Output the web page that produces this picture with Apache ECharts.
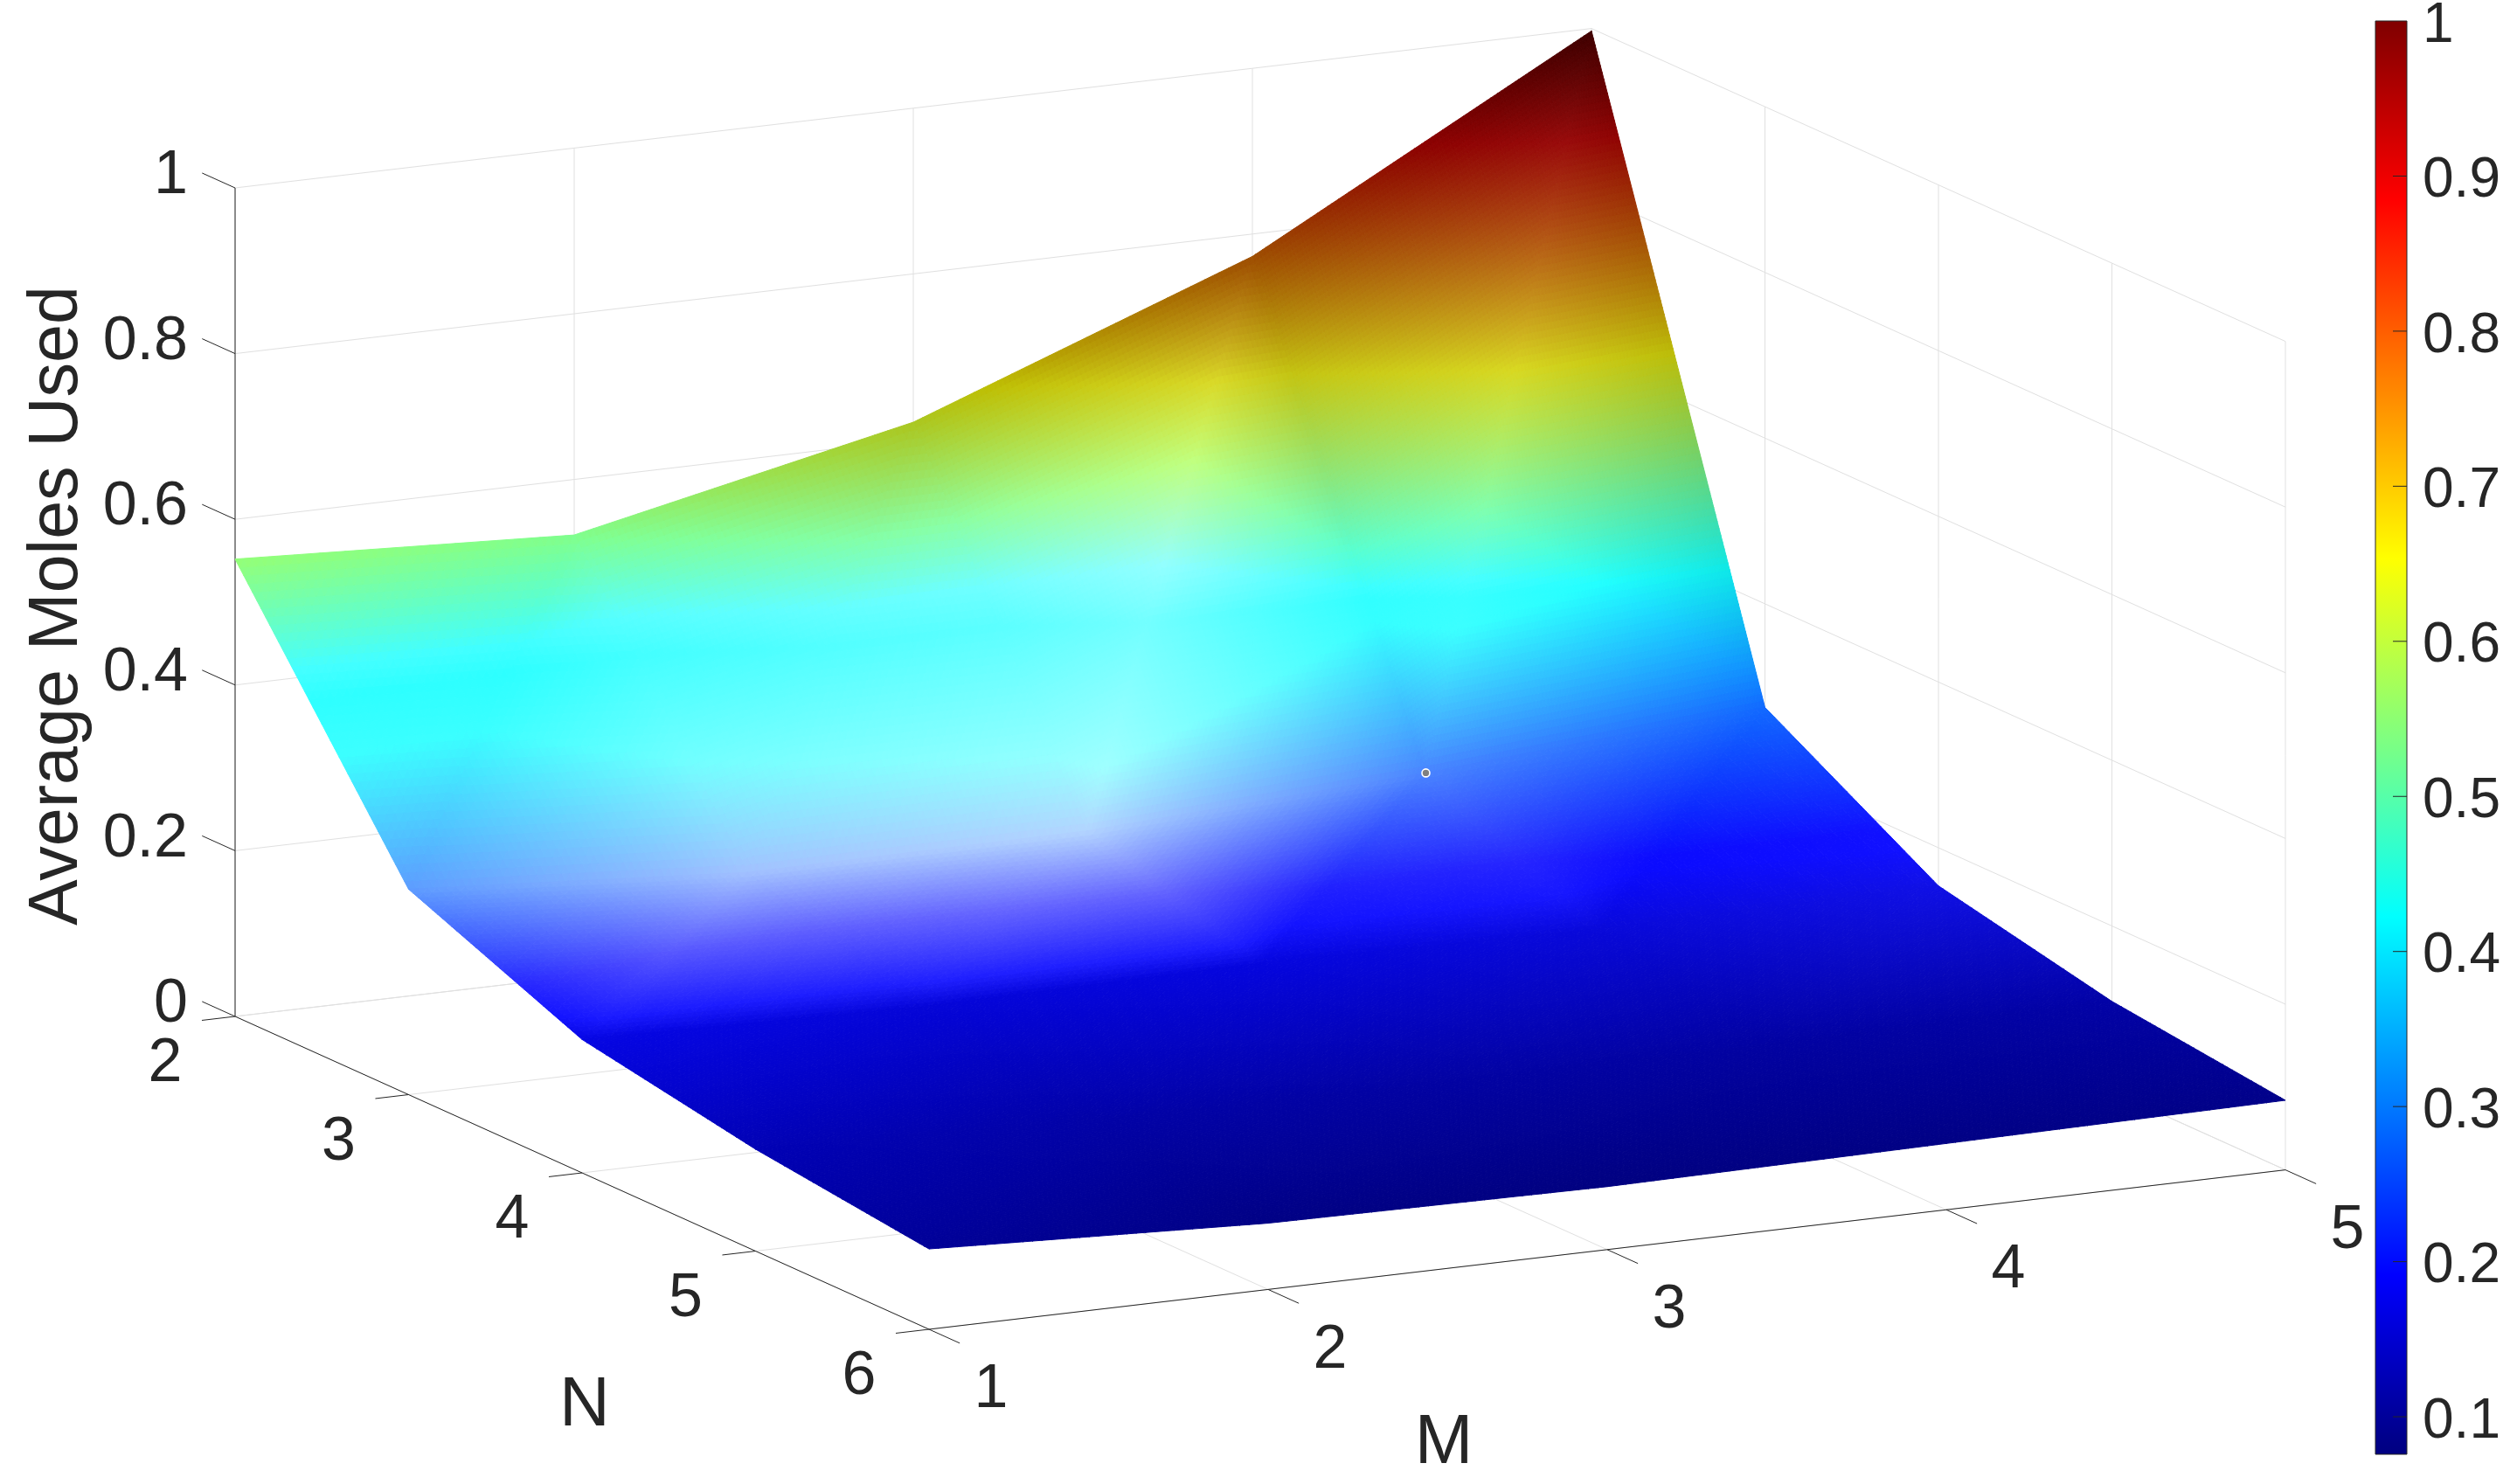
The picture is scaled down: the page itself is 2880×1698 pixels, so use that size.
<!DOCTYPE html>
<html><head><meta charset="utf-8">
<style>html,body{margin:0;padding:0;background:#fff}#c{width:2880px;height:1698px}</style>
<script src="https://cdn.jsdelivr.net/npm/echarts@6/dist/echarts.min.js"></script>
</head><body><div id="c"></div>
<script>
const mValues = [1, 2, 3, 4, 5];
const nValues = [2, 3, 4, 5, 6];
const zAtN2 = [0.552, 0.533, 0.621, 0.773, 0.997];
const zAtN3 = [0.248, 0.220, 0.222, 0.244, 0.275];
const zAtN4 = [0.161, 0.152, 0.157, 0.150, 0.154];
const zAtN5 = [0.123, 0.110, 0.105, 0.105, 0.109];
const zAtN6 = [0.097, 0.080, 0.076, 0.080, 0.084];
const zRows = [zAtN2, zAtN3, zAtN4, zAtN5, zAtN6];
const zTicks = [0, 0.2, 0.4, 0.6, 0.8, 1];
const colorbarTicks = [0.1, 0.2, 0.3, 0.4, 0.5, 0.6, 0.7, 0.8, 0.9, 1];
const colorMin = 0.0758, colorMax = 1;
const marked = [4, 3, 0.244];

const FONT = '"Liberation Sans", Arial, sans-serif', INK = '#262626', GRID = '#e0e0e0';

// orthographic view of the (M, N, Z) box onto the plane of the page
function project(m, n, z) {
  return [269 + (m - 1) * 388 + (n - 2) * 198.5,
          1163 - (m - 1) * 45.6 + (n - 2) * 89.5 - z * 948];
}
function jet(t) {
  const f = c => Math.max(0, Math.min(1, 1.5 - Math.abs(4 * t - c)));
  return [f(3), f(2), f(1)];
}
const toT = z => (z - colorMin) / (colorMax - colorMin);
const css = c => 'rgb(' + c.map(v => Math.round(Math.min(1, Math.max(0, v)) * 255)).join(',') + ')';

// vertex lighting from surface normals in the unit box
const BOX = 4, LOBE = 39 * Math.PI / 180, SHIN = 52, KS = 0.62, SHIN2 = 20, KS2 = 0.16, KD = 1.72, KA = 0.083;
const hLen = Math.hypot(-0.05, Math.sin(LOBE), Math.cos(LOBE));
const H = [-0.05 / hLen, Math.sin(LOBE) / hLen, Math.cos(LOBE) / hLen];
function slope(get, k) {
  if (k === 0) return (-3 * get(0) + 4 * get(1) - get(2)) / 2;
  if (k === 4) return (3 * get(4) - 4 * get(3) + get(2)) / 2;
  return (get(k + 1) - get(k - 1)) / 2;
}
function lightAt(i, j) {
  const a = slope(q => zRows[j][q], i) * BOX;
  const b = slope(q => zRows[q][i], j) * BOX;
  const l = Math.hypot(a, b, 1), nn = [-a / l, -b / l, 1 / l];
  const d = Math.min(1, KA + KD * nn[2]);
  const dot = Math.max(0, nn[0] * H[0] + nn[1] * H[1] + nn[2] * H[2]);
  const s = KS * Math.pow(dot, SHIN) + KS2 * Math.pow(dot, SHIN2);
  return { d, s };
}

// triangles of the mesh, back to front
const tris = [];
for (let j = 0; j < 4; j++) for (let i = 3; i >= 0; i--) {
  tris.push([[i, j], [i + 1, j], [i, j + 1]]);
  tris.push([[i + 1, j], [i + 1, j + 1], [i, j + 1]]);
}
function renderTri(params, api) {
  const v = tris[params.dataIndex].map(([i, j]) => {
    const L = lightAt(i, j);
    return { m: mValues[i], n: nValues[j], z: zRows[j][i], d: L.d, s: L.s };
  });
  const zs = v.map(p => p.z), range = Math.max(...zs) - Math.min(...zs);
  const SUB = Math.max(36, Math.ceil(range * 130));
  const at = (a, b) => {
    const c = SUB - a - b, u = a / SUB, w = b / SUB, y = c / SUB;
    const mix = k => v[0][k] * u + v[1][k] * w + v[2][k] * y;
    return { m: mix('m'), n: mix('n'), z: mix('z'), d: mix('d'), s: mix('s') };
  };
  const pt = p => api.coord(project(p.m, p.n, p.z));
  const poly = (A, B, C) => {
    const z = (A.z + B.z + C.z) / 3, d = (A.d + B.d + C.d) / 3, s = (A.s + B.s + C.s) / 3;
    const col = css(jet(toT(z)).map(c => c * d + s));
    return { type: 'polygon', silent: true, shape: { points: [pt(A), pt(B), pt(C)] },
             style: { fill: col, stroke: col, lineWidth: 1 } };
  };
  const children = [];
  for (let a = 0; a < SUB; a++) for (let b = 0; b < SUB - a; b++) {
    children.push(poly(at(a, b), at(a + 1, b), at(a, b + 1)));
    if (a + b < SUB - 1) children.push(poly(at(a + 1, b), at(a + 1, b + 1), at(a, b + 1)));
  }
  return { type: 'group', children };
}

// box, grid and ticks
const M0 = mValues[0], M1 = mValues[4], N0 = nValues[0], N1 = nValues[4];
const segs = [];
const add = (a, b, color) => segs.push({ a, b, color });
zTicks.forEach(z => { add([M0, N0, z], [M1, N0, z], GRID); add([M1, N0, z], [M1, N1, z], GRID); });
mValues.forEach(m => { add([m, N0, 0], [m, N0, 1], GRID); add([m, N0, 0], [m, N1, 0], GRID); });
nValues.forEach(n => { add([M1, n, 0], [M1, n, 1], GRID); add([M0, n, 0], [M1, n, 0], GRID); });
add([M0, N0, 0], [M0, N0, 1], INK);
add([M0, N0, 0], [M0, N1, 0], INK);
add([M0, N1, 0], [M1, N1, 0], INK);
zTicks.forEach(z => add([M0, N0, z], [M0, N0 - 0.19, z], INK));
nValues.forEach(n => add([M0, n, 0], [M0 - 0.098, n, 0], INK));
mValues.forEach(m => add([m, N1, 0], [m, N1 + 0.177, 0], INK));

const texts = [];
zTicks.forEach(z => texts.push({ p: [M0, N0, z], dx: -54, dy: -13, t: String(z), align: 'right', size: 70 }));
nValues.forEach(n => texts.push({ p: [M0, n, 0], dx: -80, dy: 55, t: String(n), align: 'center', size: 70 }));
mValues.forEach(m => texts.push({ p: [m, N1, 0], dx: 71, dy: 70, t: String(m), align: 'center', size: 70 }));
texts.push({ xy: [669, 1609], t: 'N', align: 'center', size: 80 });
texts.push({ xy: [1652, 1652], t: 'M', align: 'center', size: 80 });
texts.push({ xy: [66, 693], t: 'Average Moles Used', align: 'center', size: 79, rot: Math.PI / 2 });

const jetStops = [];
for (let k = 0; k <= 128; k++) jetStops.push({ offset: k / 128, color: css(jet(1 - k / 128)) });

const option = {
  animation: false,
  backgroundColor: '#fff',
  grid: [
    { left: 0, top: 0, width: 2880, height: 1698, outerBoundsMode: 'none' },
    { left: 2718, top: 24, width: 36, height: 1640, outerBoundsMode: 'none' }
  ],
  xAxis: [
    { type: 'value', gridIndex: 0, min: 0, max: 2880, show: false },
    { type: 'value', gridIndex: 1, min: 0, max: 1, show: false }
  ],
  yAxis: [
    { type: 'value', gridIndex: 0, min: 0, max: 1698, inverse: true, show: false },
    { type: 'value', gridIndex: 1, min: colorMin, max: colorMax, show: false }
  ],
  series: [
    { type: 'custom', name: 'frame', xAxisIndex: 0, yAxisIndex: 0, z: 1, silent: true, clip: false,
      data: segs.map(s => [...s.a, ...s.b]),
      renderItem: (params, api) => {
        const s = segs[params.dataIndex], A = api.coord(project(...s.a)), B = api.coord(project(...s.b));
        return { type: 'line', silent: true, shape: { x1: A[0], y1: A[1], x2: B[0], y2: B[1] },
                 style: { stroke: s.color, lineWidth: 1, fill: null } };
      } },
    { type: 'custom', name: 'Average Moles Used', xAxisIndex: 0, yAxisIndex: 0, z: 2, silent: true, clip: false,
      progressive: 0, data: tris.map((t, k) => [k, 0]), renderItem: renderTri },
    { type: 'custom', name: 'marker', xAxisIndex: 0, yAxisIndex: 0, z: 3, silent: true, clip: false,
      data: [marked],
      renderItem: (params, api) => {
        const c = api.coord(project(api.value(0), api.value(1), api.value(2)));
        return { type: 'circle', shape: { cx: c[0], cy: c[1], r: 4.5 }, style: { fill: '#808080', stroke: '#fff', lineWidth: 1.6 } };
      } },
    { type: 'custom', name: 'labels', xAxisIndex: 0, yAxisIndex: 0, z: 4, silent: true, clip: false,
      data: texts.map((t, k) => [k, 0]),
      renderItem: (params, api) => {
        const t = texts[params.dataIndex];
        let xy;
        if (t.p) { const c = api.coord(project(...t.p)); xy = [c[0] + t.dx, c[1] + t.dy]; }
        else xy = api.coord(t.xy);
        return { type: 'text', x: xy[0], y: xy[1], rotation: t.rot || 0,
                 style: { text: t.t, x: 0, y: 0, fill: INK, fontFamily: FONT, fontSize: t.size, align: t.align, verticalAlign: 'middle' } };
      } },
    { type: 'custom', name: 'colorbar', xAxisIndex: 1, yAxisIndex: 1, z: 2, silent: true, clip: false,
      data: [[0, colorMin, 1, colorMax]],
      renderItem: (params, api) => {
        const A = api.coord([api.value(0), api.value(3)]), B = api.coord([api.value(2), api.value(1)]);
        const children = [{ type: 'rect', shape: { x: A[0], y: A[1], width: B[0] - A[0], height: B[1] - A[1] },
                 style: { fill: new echarts.graphic.LinearGradient(0, 0, 0, 1, jetStops), stroke: INK, lineWidth: 1 } }];
        colorbarTicks.forEach(v => {
          const p = api.coord([1, v]);
          if (v < colorMax) children.push({ type: 'line', shape: { x1: p[0] - 16, y1: p[1], x2: p[0], y2: p[1] }, style: { stroke: INK, lineWidth: 1 } });
          children.push({ type: 'text', style: { text: String(v), x: p[0] + 18, y: p[1] + 6, fill: INK, fontFamily: FONT, fontSize: 64, align: 'left', verticalAlign: 'middle' } });
        });
        return { type: 'group', children };
      } }
  ]
};
const chart = echarts.init(document.getElementById('c'), null, { renderer: 'canvas', width: 2880, height: 1698 });
chart.setOption(option);
</script></body></html>
